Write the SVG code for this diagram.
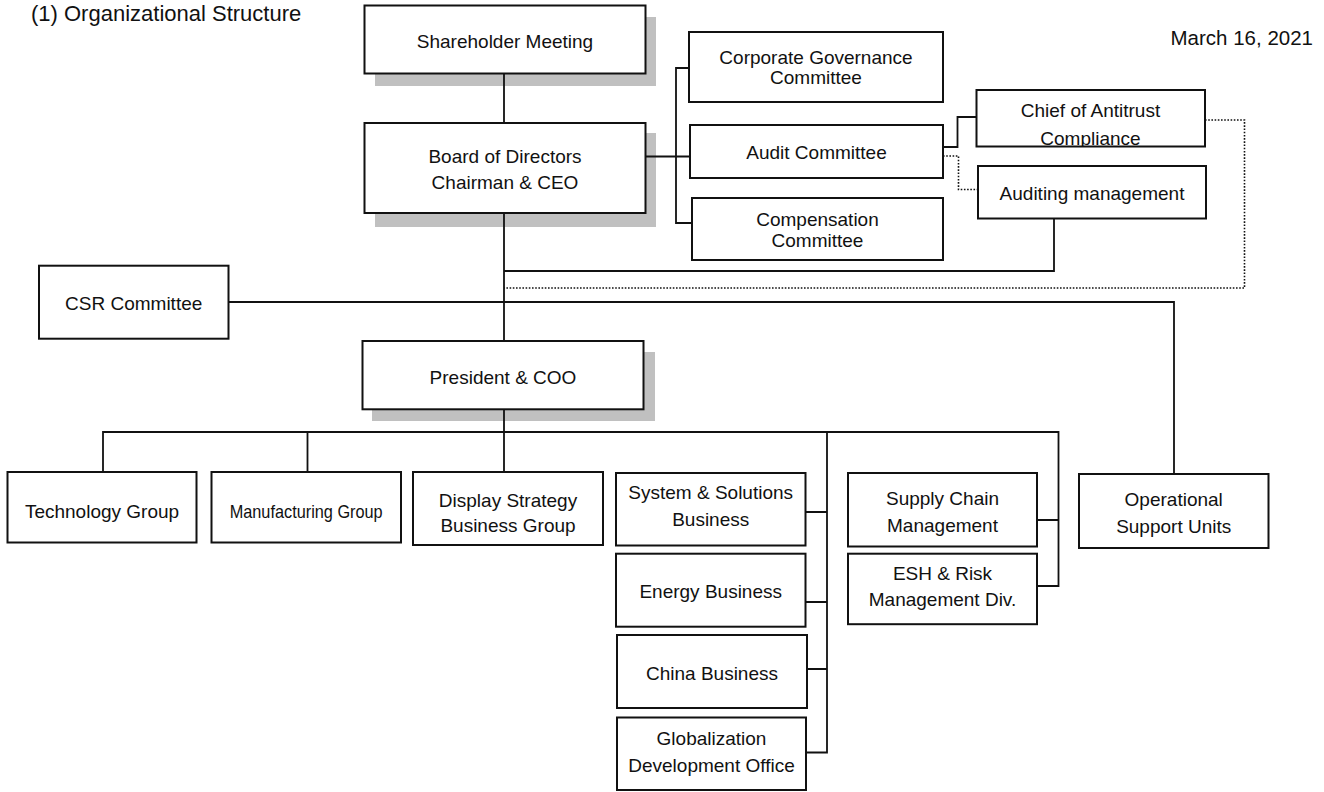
<svg xmlns="http://www.w3.org/2000/svg" width="1324" height="792" viewBox="0 0 1324 792">
<style>
.box{fill:#fff;stroke:#111;stroke-width:2}
.sh{fill:#c0c0c0}
.t{font-family:"Liberation Sans",Arial,sans-serif;font-size:19px;fill:#111;text-anchor:middle}
.ln{fill:none;stroke:#111;stroke-width:1.8}
.dt{fill:none;stroke:#111;stroke-width:1.6;stroke-dasharray:1.6 1.6}
</style>
<defs>
<clipPath id="chiefClip"><rect x="977.5" y="91" width="226.5" height="55"/></clipPath>
</defs>
<rect width="1324" height="792" fill="#fff"/>
<text x="31" y="21" style="font-family:'Liberation Sans',Arial,sans-serif;font-size:22px;fill:#111">(1) Organizational Structure</text>
<text x="1313" y="45" style="font-family:'Liberation Sans',Arial,sans-serif;font-size:20.5px;fill:#111;text-anchor:end">March 16, 2021</text>

<g id="shadows">
<rect class="sh" x="375" y="17" width="281" height="69"/>
<rect class="sh" x="375" y="133" width="281" height="94"/>
<rect class="sh" x="372" y="352" width="283" height="69"/>
</g>

<g id="connectors">
<path class="ln" d="M504 73V123M504 213V341M504 409V472"/>
<path class="ln" d="M645 156.5H690M689 68H676V223H692"/>
<path class="ln" d="M943 147H957.5V117H977"/>
<path class="ln" d="M1054 219V271H504"/>
<path class="ln" d="M228.5 302H1174V474"/>
<path class="ln" d="M103 472V432H1058.5V586H1037M307.5 432V472"/>
<path class="ln" d="M827 432V752.5H806M805 512H827M805 602H827M807 669H827M1037 520H1058.5"/>
<path class="dt" d="M943 156H958.5V189.5H978"/>
<path class="dt" d="M1205 120H1244.5V288H504"/>
</g>

<g id="shareholder"><rect class="box" x="364.5" y="5.5" width="281" height="68"/><text class="t" x="505" y="48">Shareholder Meeting</text></g>
<g id="board"><rect class="box" x="364.5" y="123" width="281" height="90"/><text class="t" x="505" y="162.5">Board of Directors</text><text class="t" x="505" y="188.5">Chairman &amp; CEO</text></g>
<g id="corpgov"><rect class="box" x="689" y="32" width="254" height="70"/><text class="t" x="816" y="63.5">Corporate Governance</text><text class="t" x="816" y="83.5">Committee</text></g>
<g id="audit"><rect class="box" x="690" y="125" width="253" height="53"/><text class="t" x="816.5" y="158.5">Audit Committee</text></g>
<g id="compensation"><rect class="box" x="692" y="198" width="251" height="62"/><text class="t" x="817.5" y="225.5">Compensation</text><text class="t" x="817.5" y="246.5">Committee</text></g>
<g id="chief"><rect class="box" x="976.5" y="90" width="228.5" height="56.5"/><g clip-path="url(#chiefClip)"><text class="t" x="1090.5" y="117">Chief of Antitrust</text><text class="t" x="1090.5" y="145">Compliance</text></g></g>
<g id="auditmgmt"><rect class="box" x="978" y="166" width="228" height="52.5"/><text class="t" x="1092" y="199.5">Auditing management</text></g>
<g id="csr"><rect class="box" x="39" y="265.7" width="189.5" height="73"/><text class="t" x="133.7" y="309.5">CSR Committee</text></g>
<g id="president"><rect class="box" x="362.5" y="341" width="281" height="68.3"/><text class="t" x="503" y="383.5">President &amp; COO</text></g>
<g id="technology"><rect class="box" x="7.5" y="472" width="189" height="70.5"/><text class="t" x="102" y="518">Technology Group</text></g>
<g id="manufacturing"><rect class="box" x="211.5" y="472" width="189.5" height="70.5"/><text class="t" x="306.2" y="518" textLength="153" lengthAdjust="spacingAndGlyphs">Manufacturing Group</text></g>
<g id="display"><rect class="box" x="413" y="472" width="190" height="73"/><text class="t" x="508" y="506.5">Display Strategy</text><text class="t" x="508" y="531.5">Business Group</text></g>
<g id="system"><rect class="box" x="616" y="473" width="189.5" height="72.5"/><text class="t" x="710.7" y="499">System &amp; Solutions</text><text class="t" x="710.7" y="526">Business</text></g>
<g id="energy"><rect class="box" x="616" y="553.7" width="189.5" height="73"/><text class="t" x="710.7" y="597.5">Energy Business</text></g>
<g id="china"><rect class="box" x="617" y="635" width="190" height="73"/><text class="t" x="712" y="679.5">China Business</text></g>
<g id="globalization"><rect class="box" x="617" y="717.5" width="189" height="72.5"/><text class="t" x="711.5" y="744.5">Globalization</text><text class="t" x="711.5" y="771.5">Development Office</text></g>
<g id="supply"><rect class="box" x="848" y="473" width="189" height="73.5"/><text class="t" x="942.5" y="504.5">Supply Chain</text><text class="t" x="942.5" y="531.5">Management</text></g>
<g id="esh"><rect class="box" x="848" y="553.7" width="189" height="70.5"/><text class="t" x="942.5" y="579.5">ESH &amp; Risk</text><text class="t" x="942.5" y="605.5">Management Div.</text></g>
<g id="operational"><rect class="box" x="1079" y="474" width="189.5" height="74"/><text class="t" x="1173.7" y="505.5">Operational</text><text class="t" x="1173.7" y="533">Support Units</text></g>
</svg>
